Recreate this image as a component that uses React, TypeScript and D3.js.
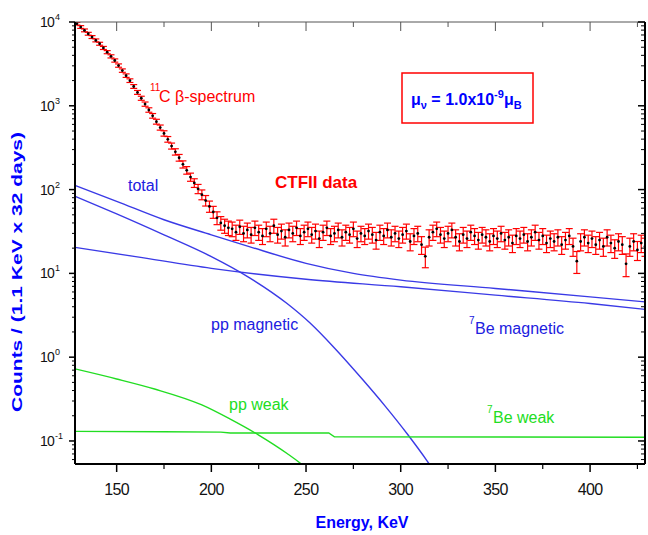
import React from "react";
import * as d3 from "d3";

// CTFII data: [energy KeV, counts per 1.1 KeV x 32 days]
const ctfData: [number, number][] = [
  [129, 9550], [131, 8710], [133, 7940], [135, 7240], [137, 6610], [139, 6030], [141, 5500], [143, 4900],
  [145, 4365], [147, 3890], [149, 3470], [151, 3020], [153, 2630], [155, 2290], [157, 1995], [159, 1700],
  [161, 1445], [163, 1230], [165, 1047], [167, 891], [169, 759], [171, 646], [173, 550], [175, 468],
  [177, 398], [179, 331], [181, 282], [183, 240], [185, 200], [187, 170], [189, 141], [191, 120],
  [193, 102], [195, 87], [197, 74], [199, 63], [201, 54], [203, 46], [205, 40], [207, 37], [209, 35],
  [211, 34], [213, 31], [215, 36], [217, 30], [219, 33], [221, 29], [223, 35], [225, 31], [227, 28],
  [229, 34], [231, 30], [233, 37], [235, 29], [237, 32], [239, 27], [241, 33], [243, 30], [245, 35],
  [247, 28], [249, 31], [251, 34], [253, 29], [255, 32], [257, 26], [259, 31], [261, 35], [263, 28],
  [265, 30], [267, 33], [269, 27], [271, 31], [273, 29], [275, 34], [277, 26], [279, 30], [281, 28],
  [283, 32], [285, 29], [287, 25], [289, 31], [291, 28], [293, 33], [295, 27], [297, 30], [299, 26],
  [301, 29], [303, 32], [305, 24], [307, 28], [309, 30], [311, 22], [313, 16], [315, 27], [317, 31],
  [319, 34], [321, 29], [323, 26], [325, 30], [327, 33], [329, 27], [331, 24], [333, 29], [335, 26],
  [337, 31], [339, 28], [341, 25], [343, 29], [345, 27], [347, 24], [349, 28], [351, 26], [353, 30],
  [355, 25], [357, 27], [359, 23], [361, 28], [363, 26], [365, 29], [367, 24], [369, 27], [371, 31],
  [373, 25], [375, 28], [377, 23], [379, 26], [381, 24], [383, 27], [385, 22], [387, 25], [389, 28],
  [391, 21], [393, 14], [395, 24], [397, 27], [399, 23], [401, 26], [403, 22], [405, 25], [407, 21],
  [409, 27], [411, 23], [413, 20], [415, 24], [417, 22], [419, 13], [421, 21], [423, 24], [425, 19],
  [427, 23], [429, 21],
];

// Theory curves: [energy KeV, log10 counts]
const totalCurve: [number, number][] = [
  [128, 2.05], [150, 1.86], [175, 1.64], [200, 1.46], [220, 1.32], [250, 1.12], [275, 1.0],
  [300, 0.92], [350, 0.82], [400, 0.72], [429, 0.66],
];
const ppMagnetic: [number, number][] = [
  [128, 1.92], [150, 1.71], [175, 1.46], [200, 1.2], [220, 0.95], [240, 0.64], [252, 0.41],
  [265, 0.11], [280, -0.27], [292, -0.59], [303.6, -0.92], [314, -1.24], [320, -1.44],
];
const beMagnetic: [number, number][] = [
  [128, 1.31], [160, 1.2], [200, 1.06], [250, 0.93], [300, 0.84], [350, 0.74], [400, 0.64], [429, 0.57],
];
const ppWeak: [number, number][] = [
  [128, -0.14], [150, -0.26], [170, -0.38], [195, -0.57], [210, -0.74], [225, -0.93], [240, -1.15],
  [250, -1.32], [254, -1.4],
];
const beWeak: [number, number][] = [
  [128, -0.885], [175, -0.89], [205, -0.895], [210, -0.905], [262, -0.905], [265, -0.95], [429, -0.955],
];

const xMajorTicks = [150, 200, 250, 300, 350, 400];
const xMinorTicks = [175, 225, 275, 325, 375, 425];
const yDecades = [-1, 0, 1, 2, 3, 4];

const W = 648;
const H = 535;
const L = 75, R = 645, T = 22, B = 464;

const BLUE_LINE = "#3a3ae6";
const BLUE_TEXT = "#2020e0";
const GREEN = "#22dd22";
const RED = "#ff0000";
const FONT = "'Liberation Sans', Arial, sans-serif";

export default function App() {
  const x = d3.scaleLinear().domain([128, 429]).range([L, R]);
  const y = d3.scaleLog().domain([0.0531, 10000]).range([B, T]);

  const line = d3
    .line<[number, number]>()
    .x((d) => x(d[0]))
    .y((d) => y(Math.pow(10, d[1])))
    .curve(d3.curveMonotoneX);
  const lineLin = d3
    .line<[number, number]>()
    .x((d) => x(d[0]))
    .y((d) => y(Math.pow(10, d[1])));

  const minorY: number[] = [];
  for (let e = -2; e <= 4; e++) {
    for (let m = 2; m <= 9; m++) {
      const v = m * Math.pow(10, e);
      if (v > 0.0531 && v < 10000) minorY.push(v);
    }
  }

  return (
    <svg
      width={W}
      height={H}
      style={{ position: "absolute", left: 0, top: 0, background: "#fff" }}
      fontFamily={FONT}
    >
      <defs>
        <clipPath id="plot">
          <rect x={L} y={T} width={R - L} height={B - T} />
        </clipPath>
      </defs>

      {/* theory curves */}
      <g clipPath="url(#plot)" fill="none" strokeWidth={1.4}>
        <path d={line(totalCurve) || ""} stroke={BLUE_LINE} />
        <path d={line(ppMagnetic) || ""} stroke={BLUE_LINE} />
        <path d={line(beMagnetic) || ""} stroke={BLUE_LINE} />
        <path d={line(ppWeak) || ""} stroke={GREEN} />
        <path d={lineLin(beWeak) || ""} stroke={GREEN} />
      </g>

      {/* data with error bars */}
      <g clipPath="url(#plot)">
        {ctfData.map(([e, c], i) => {
          const err = Math.sqrt(c);
          const cx = x(e);
          const y1 = y(c + err);
          const y0 = y(Math.max(c - err, 0.06));
          return (
            <g key={i} stroke={RED} strokeWidth={1.2}>
              <line x1={cx} x2={cx} y1={y1 - 1} y2={y0 + 1} />
              <line x1={cx - 3.5} x2={cx + 3.5} y1={y1 - 1} y2={y1 - 1} />
              <line x1={cx - 3.5} x2={cx + 3.5} y1={y0 + 1} y2={y0 + 1} />
            </g>
          );
        })}
        {ctfData.map(([e, c], i) => (
          <circle key={"p" + i} cx={x(e)} cy={y(c)} r={1.4} fill="#000" />
        ))}
      </g>

      {/* axes frame */}
      <line x1={L} x2={R} y1={T} y2={T} stroke="#555" strokeWidth={1} />
      <line x1={L} x2={R} y1={B} y2={B} stroke="#000" strokeWidth={2} />
      <line x1={L} x2={L} y1={T} y2={B} stroke="#000" strokeWidth={2} />
      <line x1={R} x2={R} y1={T} y2={B} stroke="#000" strokeWidth={2} />

      {/* x ticks */}
      {xMajorTicks.map((t) => (
        <g key={"xm" + t}>
          <line x1={x(t)} x2={x(t)} y1={B} y2={B + 8} stroke="#000" strokeWidth={1.5} />
          <line x1={x(t)} x2={x(t)} y1={T} y2={T + 9} stroke="#555" strokeWidth={1} />
          <text
            x={x(t)}
            y={B + 31}
            textAnchor="middle"
            fontSize={16}
            letterSpacing={-0.6}
            fill="#111"
          >
            {t}
          </text>
        </g>
      ))}
      {xMinorTicks.map((t) => (
        <g key={"xn" + t}>
          <line x1={x(t)} x2={x(t)} y1={B} y2={B + 5} stroke="#000" strokeWidth={1.2} />
          <line x1={x(t)} x2={x(t)} y1={T} y2={T + 5} stroke="#555" strokeWidth={1} />
        </g>
      ))}

      {/* y ticks */}
      {yDecades.map((d) => {
        const yy = y(Math.pow(10, d));
        return (
          <g key={"yd" + d}>
            <line x1={L - 6} x2={L} y1={yy} y2={yy} stroke="#000" strokeWidth={1.5} />
            <line x1={R - 7} x2={R} y1={yy} y2={yy} stroke="#000" strokeWidth={1.5} />
            <text x={54} y={yy + 5} textAnchor="end" fontSize={14} letterSpacing={-0.8} fill="#111">
              10
            </text>
            <text x={55} y={yy - 2} fontSize={9} fill="#111">
              {d}
            </text>
          </g>
        );
      })}
      {minorY.map((v, i) => (
        <g key={"ym" + i}>
          <line x1={L - 3} x2={L} y1={y(v)} y2={y(v)} stroke="#000" strokeWidth={1} />
          <line x1={R - 4} x2={R} y1={y(v)} y2={y(v)} stroke="#000" strokeWidth={1} />
        </g>
      ))}

      {/* axis titles */}
      <text x={362} y={528} textAnchor="middle" fontSize={16} fontWeight="bold" fill="#0000ff">
        Energy, KeV
      </text>
      <text
        transform="translate(22,272) rotate(-90)"
        textAnchor="middle"
        fontSize={15}
        fontWeight="bold"
        fill="#0000ff"
        textLength={280}
        lengthAdjust="spacingAndGlyphs"
      >
        Counts / (1.1 KeV x 32 days)
      </text>

      {/* annotations */}
      <text x={150} y={91} fontSize={10} fill={RED}>
        11
      </text>
      <text x={159} y={102} fontSize={16} fill={RED}>
        C β-spectrum
      </text>
      <text x={275} y={188} fontSize={17} fontWeight="bold" fill={RED}>
        CTFII data
      </text>
      <text x={128} y={191} fontSize={16} fill={BLUE_TEXT}>
        total
      </text>
      <text x={211} y={330} fontSize={16} fill={BLUE_TEXT}>
        pp magnetic
      </text>
      <text x={469} y={324} fontSize={10} fill={BLUE_TEXT}>
        7
      </text>
      <text x={475} y={334} fontSize={16} fill={BLUE_TEXT}>
        Be magnetic
      </text>
      <text x={229} y={410} fontSize={16} fill={GREEN}>
        pp weak
      </text>
      <text x={487} y={413} fontSize={10} fill={GREEN}>
        7
      </text>
      <text x={493} y={423} fontSize={16} fill={GREEN}>
        Be weak
      </text>

      {/* magnetic moment box */}
      <rect x={402} y={73} width={131} height={50} fill="none" stroke={RED} strokeWidth={1.5} />
      <text x={411} y={105} fontSize={16} fontWeight="bold" fill="#0000ff">
        μ
        <tspan fontSize={11} dy={4}>ν</tspan>
        <tspan dy={-4}> = 1.0x10</tspan>
        <tspan fontSize={11} dy={-7}>-9</tspan>
        <tspan dy={7}>μ</tspan>
        <tspan fontSize={11} dy={4}>B</tspan>
      </text>
    </svg>
  );
}
